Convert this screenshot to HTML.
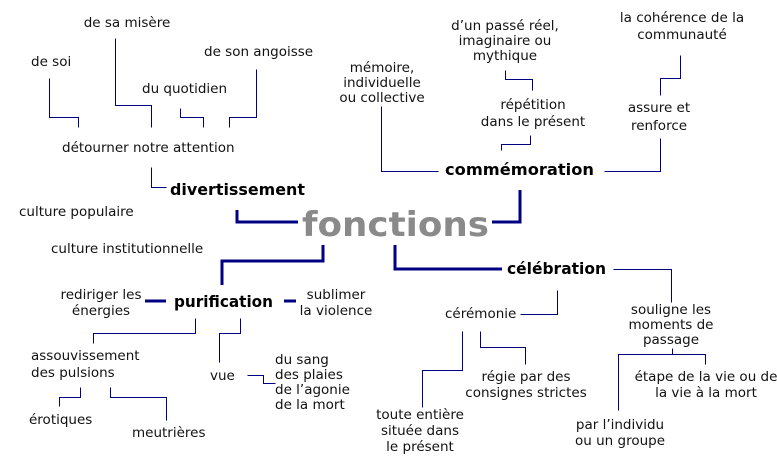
<!DOCTYPE html>
<html><head><meta charset="utf-8"><style>
html,body{margin:0;padding:0;background:#fff;}
svg{display:block;}
text{font-family:"DejaVu Sans","Liberation Sans",sans-serif;font-size:13.5px;fill:#111;}
.b{font-size:16px;font-weight:bold;fill:#000;}
.f{font-size:34px;font-weight:bold;fill:#8a8a8a;}
.m{text-anchor:middle;}
</style></head><body>
<svg width="777" height="458" viewBox="0 0 777 458" xmlns="http://www.w3.org/2000/svg">
<g fill="none" stroke="#000080" stroke-width="1" transform="translate(0.5,0.5)">
<polyline points="49,78 49,117 78,117 78,127"/>
<polyline points="115,38 115,105 151,105 151,127"/>
<polyline points="180,108 180,117 203,117 203,127"/>
<polyline points="256,69 256,117 229,117 229,127"/>
<polyline points="151,167 151,187 166,187"/>
<polyline points="381,106 381,171 438,171"/>
<polyline points="604,171 660,171 660,138"/>
<polyline points="660,95 660,78 680,78 680,55"/>
<polyline points="505,70 505,79 532,79 532,90"/>
<polyline points="530,135 530,144 501,144 501,150"/>
<polyline points="195,318 195,333 93,333 93,343"/>
<polyline points="240,318 240,333 219,333 219,362"/>
<polyline points="247,375 263,375 263,383 275,383"/>
<polyline points="80,387 80,397 59,397 59,406"/>
<polyline points="110,387 110,397 166,397 166,420"/>
<polyline points="613,269 671,269 671,302"/>
<polyline points="672,348 672,354"/>
<polyline points="618,410 618,354 705,354 705,364"/>
<polyline points="520,314 557,314 557,290"/>
<polyline points="462,331 462,370 422,370 422,407"/>
<polyline points="480,331 480,347 525,347 525,364"/>
</g>
<g fill="none" stroke="#000080" stroke-width="3">
<polyline points="237,210 237,222 298,222"/>
<polyline points="520,190 520,222 492,222"/>
<polyline points="323,245 323,261 222,261 222,285"/>
<polyline points="395,245 395,269 502,269"/>
<line x1="145" y1="301" x2="166" y2="301"/>
<line x1="284" y1="301" x2="296" y2="301"/>
</g>
<text class="f" x="302" y="236" textLength="187" lengthAdjust="spacingAndGlyphs">fonctions</text>
<text class="b" x="170" y="195" textLength="135" lengthAdjust="spacingAndGlyphs">divertissement</text>
<text class="b" x="445" y="175" textLength="149" lengthAdjust="spacingAndGlyphs">commémoration</text>
<text class="b" x="174" y="307" textLength="99" lengthAdjust="spacingAndGlyphs">purification</text>
<text class="b" x="507" y="274" textLength="99" lengthAdjust="spacingAndGlyphs">célébration</text>

<text class="m" x="127" y="27">de sa misère</text>
<text x="31" y="66">de soi</text>
<text x="204" y="56">de son angoisse</text>
<text x="142" y="93">du quotidien</text>
<text x="62" y="152">détourner notre attention</text>
<text x="19" y="216">culture populaire</text>
<text x="51" y="253">culture institutionnelle</text>

<text class="m" x="382" y="72">mémoire,</text>
<text class="m" x="382" y="87">individuelle</text>
<text class="m" x="382" y="102">ou collective</text>
<text class="m" x="505" y="30">d’un passé réel,</text>
<text class="m" x="505" y="45">imaginaire ou</text>
<text class="m" x="505" y="60">mythique</text>
<text class="m" x="533" y="109">répétition</text>
<text class="m" x="533" y="126">dans le présent</text>
<text class="m" x="659" y="112">assure et</text>
<text class="m" x="659" y="130">renforce</text>
<text class="m" x="682" y="22">la cohérence de la</text>
<text class="m" x="682" y="39">communauté</text>

<text class="m" x="101" y="299">rediriger les</text>
<text class="m" x="101" y="315">énergies</text>
<text class="m" x="336" y="299">sublimer</text>
<text class="m" x="336" y="315">la violence</text>
<text x="31" y="360">assouvissement</text>
<text x="31" y="377">des pulsions</text>
<text x="210" y="380">vue</text>
<text x="275" y="364">du sang</text>
<text x="275" y="379">des plaies</text>
<text x="275" y="394">de l’agonie</text>
<text x="275" y="409">de la mort</text>
<text x="29" y="424">érotiques</text>
<text x="132" y="437">meutrières</text>

<text x="445" y="318">cérémonie</text>
<text class="m" x="671" y="314">souligne les</text>
<text class="m" x="671" y="329">moments de</text>
<text class="m" x="671" y="344">passage</text>
<text class="m" x="706" y="381">étape de la vie ou de</text>
<text class="m" x="706" y="397">la vie à la mort</text>
<text class="m" x="620" y="429">par l’individu</text>
<text class="m" x="620" y="445">ou un groupe</text>
<text class="m" x="526" y="381">régie par des</text>
<text class="m" x="526" y="397">consignes strictes</text>
<text class="m" x="420" y="419">toute entière</text>
<text class="m" x="420" y="435">située dans</text>
<text class="m" x="420" y="451">le présent</text>
</svg>
</body></html>
